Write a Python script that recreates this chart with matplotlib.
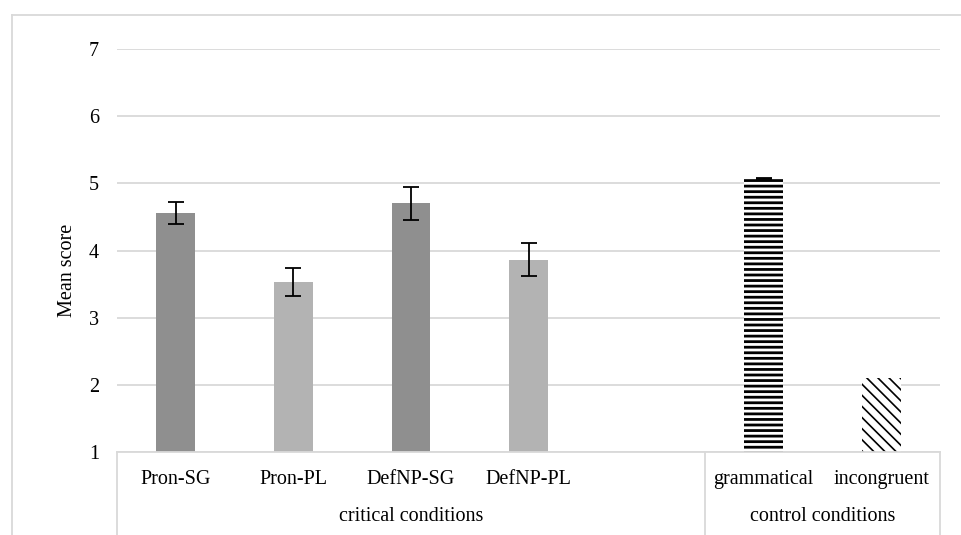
import matplotlib as mpl
mpl.use('Agg')
from matplotlib import pyplot as plt
from matplotlib.lines import Line2D
import numpy as np

# 資料
categories = ['Pron-SG', 'Pron-PL', 'DefNP-SG', 'DefNP-PL', '', 'grammatical', 'incongruent']
means = [4.56, 3.53, 4.70, 3.86, np.nan, 5.07, 2.10]
errors = [0.165, 0.21, 0.245, 0.245, np.nan, 0.01, np.nan]
groups = ['critical conditions', 'control conditions']
group_spans = [(0, 4), (5, 6)]
yticks = [1, 2, 3, 4, 5, 6, 7]

plt.rcParams['font.family'] = ['Liberation Serif', 'DejaVu Serif']
plt.rcParams['font.size'] = 14.5

W, H = 961, 535
fig = plt.figure(figsize=(W / 100, H / 100), dpi=100)
ax = fig.add_axes([117 / W, 1 - 452 / H, (940 - 117) / W, (452 - 49) / H])

x = np.arange(len(categories))
grid_c = '#d9d9d9'

# 長條（critical）
colors = ['#8f8f8f', '#b3b3b3', '#8f8f8f', '#b3b3b3']
ax.bar(x[:4], means[:4], width=0.33, bottom=0, color=colors, zorder=2)
ax.errorbar(x[:4], means[:4], yerr=errors[:4], fmt='none', ecolor='black',
            elinewidth=1.3, capsize=5.5, capthick=1.3, zorder=3)

# 長條（control）
plt.rcParams['hatch.linewidth'] = 2.0
ax.bar(x[5], means[5], width=0.33, color='white', edgecolor='black',
       linewidth=0, hatch='---', zorder=2)
ax.errorbar(x[5], means[5], yerr=errors[5], fmt='none', ecolor='black',
            elinewidth=1.3, capsize=5.5, capthick=1.3, zorder=3)
plt.rcParams['hatch.linewidth'] = 1.2
ax.bar(x[6], means[6], width=0.33, color='white', edgecolor='black',
       linewidth=0, hatch='\\\\\\', zorder=2)

ax.set_xlim(-0.5, len(categories) - 0.5)
ax.set_ylim(1, 7)
ax.set_yticks(yticks)
ax.yaxis.grid(True, color=grid_c, linewidth=1.3, zorder=0)
ax.set_axisbelow(True)
for s in ['top', 'right', 'left']:
    ax.spines[s].set_visible(False)
ax.spines['bottom'].set_color(grid_c)
ax.spines['bottom'].set_linewidth(1.3)
ax.tick_params(axis='y', length=0, pad=13)
ax.set_xticks([])
ax.set_ylabel('Mean score')
ax.yaxis.set_label_coords(-0.0486, 0.45)

# 類別標籤與群組框線
tr = ax.get_xaxis_transform()
for i, c in enumerate(categories):
    ax.text(x[i], -0.067, c, ha='center', va='center', transform=tr)
for g, (a, b) in zip(groups, group_spans):
    ax.text((a + b) / 2, -0.161, g, ha='center', va='center', transform=tr)
bot = -(535 - 452) / 403
for xv in [-0.5, 4.5, 6.5]:
    ax.plot([xv, xv], [0, bot], color=grid_c, linewidth=1.3, transform=tr, clip_on=False)

# 外框
fig.add_artist(Line2D([12 / W, 12 / W], [0, 1 - 15 / H], color=grid_c, linewidth=1.3))
fig.add_artist(Line2D([12 / W, 1], [1 - 15 / H, 1 - 15 / H], color=grid_c, linewidth=1.3))

plt.savefig('out.png', dpi=100)
plt.close()
